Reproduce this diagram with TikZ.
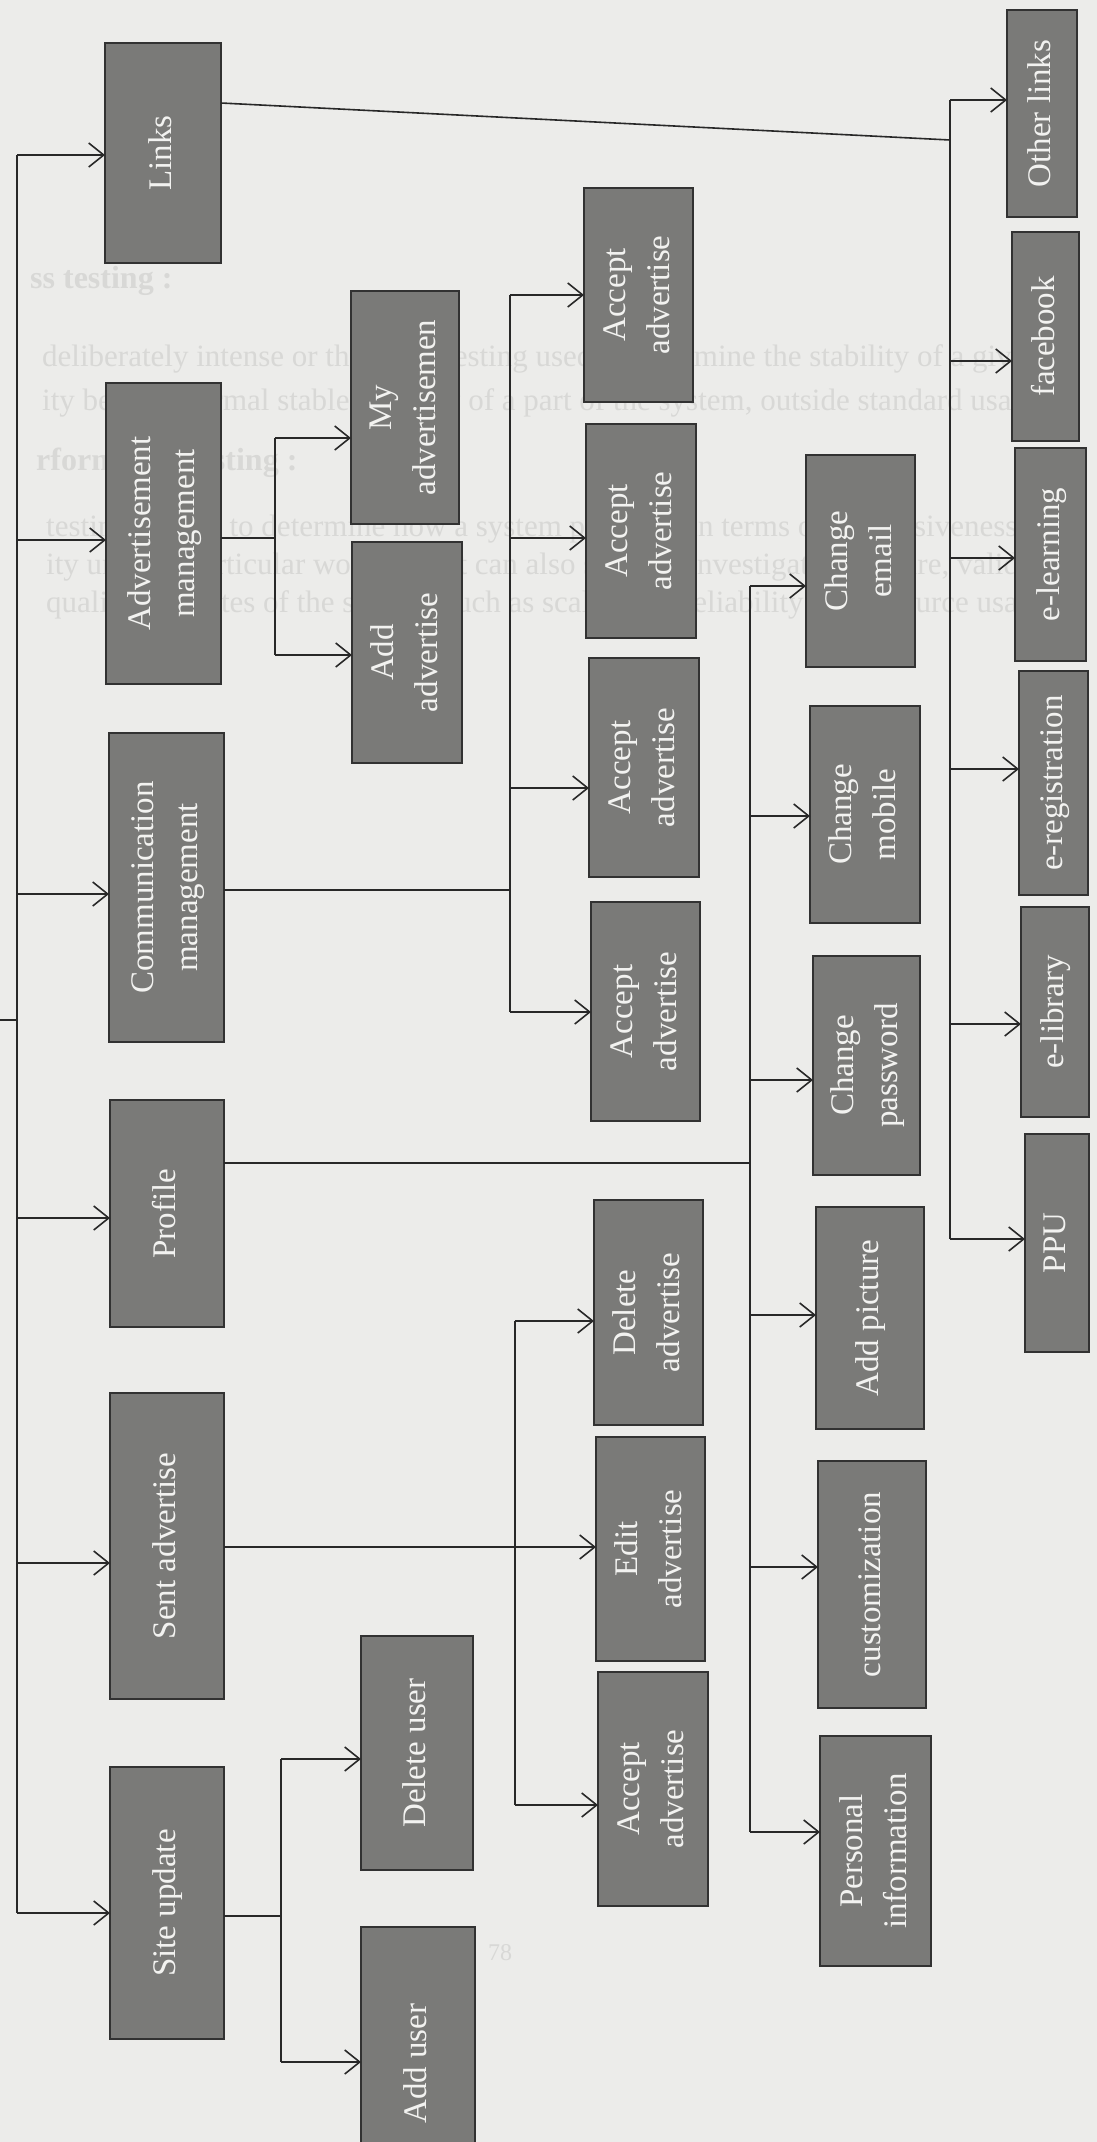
\documentclass[tikz,border=0pt]{standalone}
\usepackage{fontspec}
\setmainfont{Liberation Serif}
\usepackage{graphicx}
\usetikzlibrary{arrows.meta}
\definecolor{bg}{RGB}{236,236,234}
\definecolor{boxfill}{RGB}{122,122,120}
\definecolor{boxline}{RGB}{50,50,50}
\definecolor{boxtext}{RGB}{242,242,240}
\definecolor{ghost}{RGB}{216,216,214}
\definecolor{ink}{RGB}{40,40,40}
\newcommand\mybox[6]{%
  \node[box, minimum width={#4-#2}, minimum height={#5-#3}] (#1) at ({(#2+#4)/2},{(#3+#5)/2})
    {\rotatebox{90}{\begin{tabular}{@{}c@{}}#6\end{tabular}}};}
\begin{document}
\begin{tikzpicture}[x=1pt,y=-1pt,
  box/.style={draw=boxline, line width=2.5pt, fill=boxfill, text=boxtext,
    inner sep=0pt, outer sep=0pt, font=\fontsize{33}{44}\selectfont},
  conn/.style={line width=1.6pt, draw=ink},
  arr/.style={conn, -{Straight Barb[length=15pt,width=24pt,line width=1.6pt]}},
  ghosttext/.style={text=ghost, anchor=base west, inner sep=0pt,
    font=\fontsize{31}{36}\selectfont}]
\useasboundingbox (0,0) rectangle (1097,2142);
\fill[bg] (0,0) rectangle (1097,2142);
\clip (0,0) rectangle (1097,2142);

% faint show-through text of the page
\node[ghosttext, font=\bfseries\fontsize{32}{36}\selectfont] (g1) at (30,288) {ss testing :};
\node[ghosttext] (g2) at (42,366) {deliberately intense or thorough testing used to determine the stability of a given};
\node[ghosttext] (g3) at (42,410) {ity beyond normal stable capacity of a part of the system, outside standard usage.};
\node[ghosttext, font=\bfseries\fontsize{32}{36}\selectfont] (g4) at (36,470) {rformance testing :};
\node[ghosttext] (g5) at (46,536) {testing is used to determine how a system performs in terms of responsiveness and};
\node[ghosttext] (g6) at (46,574) {ity under a particular workload. It can also serve to investigate, measure, validate};
\node[ghosttext] (g7) at (46,612) {quality attributes of the system, such as scalability, reliability and resource usage.};
\node[text=ghost, font=\fontsize{24}{28}\selectfont, inner sep=0pt] (g8) at (500,1953) {78};

% top level
\mybox{links}{105}{43}{221}{263}{Links}
\mybox{advm}{106}{383}{221}{684}{Advertisement\\management}
\mybox{comm}{109}{733}{224}{1042}{Communication\\management}
\mybox{profile}{110}{1100}{224}{1327}{Profile}
\mybox{sent}{110}{1393}{224}{1699}{Sent advertise}
\mybox{site}{110}{1767}{224}{2039}{Site update}
% second column
\mybox{myadv}{351}{291}{459}{524}{My\\advertisemen}
\mybox{addadv}{352}{542}{462}{763}{Add\\advertise}
\mybox{deluser}{361}{1636}{473}{1870}{Delete user}
\mybox{adduser}{361}{1927}{475}{2200}{Add user}
% third column
\mybox{acc1}{584}{188}{693}{402}{Accept\\advertise}
\mybox{acc2}{586}{424}{696}{638}{Accept\\advertise}
\mybox{acc3}{589}{658}{699}{877}{Accept\\advertise}
\mybox{acc4}{591}{902}{700}{1121}{Accept\\advertise}
\mybox{delad}{594}{1200}{703}{1425}{Delete\\advertise}
\mybox{editad}{596}{1437}{705}{1661}{Edit\\advertise}
\mybox{acc5}{598}{1672}{708}{1906}{Accept\\advertise}
% fourth column
\mybox{email}{806}{455}{915}{667}{Change\\email}
\mybox{mobile}{810}{706}{920}{923}{Change\\mobile}
\mybox{password}{813}{956}{920}{1175}{Change\\password}
\mybox{picture}{816}{1207}{924}{1429}{Add picture}
\mybox{custom}{818}{1461}{926}{1708}{customization}
\mybox{personal}{820}{1736}{931}{1966}{Personal\\information}
% fifth column
\mybox{other}{1007}{10}{1077}{217}{Other links}
\mybox{facebook}{1012}{232}{1079}{441}{facebook}
\mybox{elearn}{1015}{448}{1086}{661}{e-learning}
\mybox{ereg}{1019}{671}{1088}{895}{e-registration}
\mybox{elib}{1021}{907}{1089}{1117}{e-library}
\mybox{ppu}{1025}{1134}{1089}{1352}{PPU}

% left bus (incoming from the parent)
\coordinate (Lin) at (0,1020);
\foreach \n/\y in {links/155,advm/540,comm/894,profile/1218,sent/1563,site/1913}{
  \coordinate (L-\n) at (17,\y);
  \draw[arr] (L-\n) -- (\n.west |- L-\n);}
\draw[conn] (L-links) -- (L-site);
\draw[conn] (Lin) -- (Lin -| L-links);

% Advertisement management
\coordinate (A-out) at (275,538);
\draw[conn] (advm.east |- A-out) -- (A-out);
\foreach \n/\y in {myadv/438,addadv/655}{
  \coordinate (A-\n) at (275,\y);
  \draw[arr] (A-\n) -- (\n.west |- A-\n);}
\draw[conn] (A-myadv) -- (A-addadv);

% Communication management
\coordinate (C-out) at (510,890);
\draw[conn] (comm.east |- C-out) -- (C-out);
\foreach \n/\y in {acc1/295,acc2/538,acc3/788,acc4/1012}{
  \coordinate (C-\n) at (510,\y);
  \draw[arr] (C-\n) -- (\n.west |- C-\n);}
\draw[conn] (C-acc1) -- (C-acc4);

% Profile
\coordinate (P-out) at (750,1163);
\draw[conn] (profile.east |- P-out) -- (P-out);
\foreach \n/\y in {email/586,mobile/816,password/1080,picture/1315,custom/1567,personal/1832}{
  \coordinate (P-\n) at (750,\y);
  \draw[arr] (P-\n) -- (\n.west |- P-\n);}
\draw[conn] (P-email) -- (P-personal);

% Sent advertise
\coordinate (S-out) at (515,1547);
\draw[conn] (sent.east |- S-out) -- (S-out);
\foreach \n/\y in {delad/1321,editad/1547,acc5/1805}{
  \coordinate (S-\n) at (515,\y);
  \draw[arr] (S-\n) -- (\n.west |- S-\n);}
\draw[conn] (S-delad) -- (S-acc5);

% Site update
\coordinate (U-out) at (281,1916);
\draw[conn] (site.east |- U-out) -- (U-out);
\foreach \n/\y in {deluser/1759,adduser/2062}{
  \coordinate (U-\n) at (281,\y);
  \draw[arr] (U-\n) -- (\n.west |- U-\n);}
\draw[conn] (U-deluser) -- (U-adduser);

% Links
\coordinate (K-in) at (950,140);
\draw[conn] (links.east |- 0,103) -- (K-in);
\foreach \n/\y in {other/100,facebook/361,elearn/558,ereg/769,elib/1024,ppu/1239}{
  \coordinate (K-\n) at (950,\y);
  \draw[arr] (K-\n) -- (\n.west |- K-\n);}
\draw[conn] (K-other) -- (K-ppu);
\end{tikzpicture}
\end{document}
